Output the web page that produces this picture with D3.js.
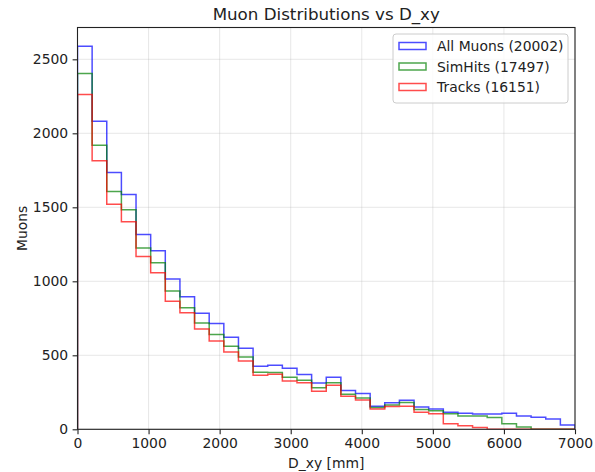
<!DOCTYPE html>
<html>
<head>
<meta charset="utf-8">
<script src="https://cdn.jsdelivr.net/npm/d3@7"></script>
<style>
  body { margin: 0; background: white; }
  svg { display: block; font-family: 'DejaVu Sans', sans-serif; }
</style>
</head>
<body>
<div id="chart"></div>
<script>
// histogram: 34 bins over 0..7000 mm
const binCount = 34
const xMax = 7000

const allMuons = [2589, 2081, 1736, 1587, 1317, 1206, 1015, 895, 785, 715, 622, 548, 426, 433, 413, 370, 313, 352,
  263, 242, 156, 180, 196, 150, 137, 115, 108, 103, 104, 108, 90, 81, 69, 29]
const simHits = [2404, 1919, 1606, 1484, 1225, 1125, 934, 821, 719, 640, 562, 489, 386, 383, 352, 331, 280, 315,
  237, 212, 147, 165, 181, 133, 125, 105, 90, 90, 80, 37, 15, 0, 0, 0]
const tracks = [2262, 1815, 1520, 1403, 1168, 1057, 866, 787, 677, 597, 523, 462, 365, 372, 327, 315, 257, 297,
  223, 198, 138, 154, 155, 115, 105, 38, 24, 13, 0, 0, 0, 0, 0, 0]

const seriesNames = ['All Muons (20002)', 'SimHits (17497)', 'Tracks (16151)']
const seriesColors = ['#0000ff', '#008000', '#ff0000']
const xTicks = [0, 1000, 2000, 3000, 4000, 5000, 6000, 7000]
const yTicks = [0, 500, 1000, 1500, 2000, 2500]

const width = 595
const height = 472
const margin = { top: 27.5, right: 20, bottom: 42.7, left: 77.5 }

const svg = d3.select('#chart')
  .append('svg')
  .attr('width', width)
  .attr('height', height)

const x = d3.scaleLinear().domain([0, xMax]).range([margin.left, width - margin.right])
const y = d3.scaleLinear().domain([0, 2715]).range([height - margin.bottom, margin.top])

// grid
svg.append('g')
  .selectAll('line')
  .data(xTicks)
  .enter()
  .append('line')
  .attr('x1', d => x(d)).attr('x2', d => x(d))
  .attr('y1', y.range()[0]).attr('y2', y.range()[1])
  .attr('stroke', '#b0b0b0').attr('stroke-opacity', 0.3).attr('stroke-width', 1)

svg.append('g')
  .selectAll('line')
  .data(yTicks)
  .enter()
  .append('line')
  .attr('y1', d => y(d)).attr('y2', d => y(d))
  .attr('x1', x.range()[0]).attr('x2', x.range()[1])
  .attr('stroke', '#b0b0b0').attr('stroke-opacity', 0.3).attr('stroke-width', 1)

// step outline like matplotlib histtype='step'
const binW = xMax / binCount
const stepPoints = values => {
  let pts = [[0, 0]]
  values.forEach((v, i) => {
    pts.push([i * binW, v])
    pts.push([(i + 1) * binW, v])
  })
  pts.push([binCount * binW, 0])
  return pts
}

const line = d3.line().x(d => x(d[0])).y(d => y(d[1]))

const plot = svg.append('g')
  .attr('clip-path', 'url(#clip)')

svg.append('clipPath').attr('id', 'clip')
  .append('rect')
  .attr('x', margin.left).attr('y', margin.top)
  .attr('width', x.range()[1] - margin.left)
  .attr('height', y.range()[0] - margin.top)

;[allMuons, simHits, tracks].forEach((vals, i) => {
  plot.append('path')
    .attr('d', line(stepPoints(vals)))
    .attr('fill', 'none')
    .attr('stroke', seriesColors[i])
    .attr('stroke-opacity', 0.7)
    .attr('stroke-width', 1.5)
    .attr('stroke-linejoin', 'miter')
})

// axes
const xAxis = svg.append('g')
  .attr('transform', `translate(0,${y.range()[0]})`)
  .call(d3.axisBottom(x).tickValues(xTicks).tickFormat(d3.format('d')).tickSize(4.9).tickPadding(4.4))
const yAxis = svg.append('g')
  .attr('transform', `translate(${x.range()[0]},0)`)
  .call(d3.axisLeft(y).tickValues(yTicks).tickFormat(d3.format('d')).tickSize(4.9).tickPadding(4.4))

;[xAxis, yAxis].forEach(ax => {
  ax.select('.domain').remove()
  ax.selectAll('text').attr('font-size', 13.9).attr('fill', '#222').attr('font-family', 'DejaVu Sans')
  ax.selectAll('line').attr('stroke', '#222').attr('stroke-width', 1.1)
})

// frame
svg.append('rect')
  .attr('x', x.range()[0]).attr('y', y.range()[1])
  .attr('width', x.range()[1] - x.range()[0])
  .attr('height', y.range()[0] - y.range()[1])
  .attr('fill', 'none').attr('stroke', '#222').attr('stroke-width', 1.1)

// title and labels
svg.append('text')
  .attr('x', (x.range()[0] + x.range()[1]) / 2)
  .attr('y', 20)
  .attr('text-anchor', 'middle')
  .attr('font-size', 16.7)
  .attr('fill', '#222')
  .text('Muon Distributions vs D_xy')

svg.append('text')
  .attr('x', (x.range()[0] + x.range()[1]) / 2)
  .attr('y', 468)
  .attr('text-anchor', 'middle')
  .attr('font-size', 13.9)
  .attr('fill', '#222')
  .text('D_xy [mm]')

svg.append('text')
  .attr('transform', `translate(27,${(y.range()[0] + y.range()[1]) / 2}) rotate(-90)`)
  .attr('text-anchor', 'middle')
  .attr('font-size', 13.9)
  .attr('fill', '#222')
  .text('Muons')

// legend
const legend = svg.append('g').attr('transform', 'translate(393,34)')
legend.append('rect')
  .attr('width', 175).attr('height', 69)
  .attr('rx', 3)
  .attr('fill', 'white').attr('fill-opacity', 0.8)
  .attr('stroke', '#cccccc').attr('stroke-width', 1)

seriesNames.forEach((name, i) => {
  const row = legend.append('g').attr('transform', `translate(0,${12 + i * 20.5})`)
  row.append('rect')
    .attr('x', 6).attr('y', -3.5)
    .attr('width', 27).attr('height', 7)
    .attr('fill', 'none')
    .attr('stroke', seriesColors[i]).attr('stroke-opacity', 0.7).attr('stroke-width', 1.5)
  row.append('text')
    .attr('x', 44).attr('y', 5)
    .attr('font-size', 13.9)
    .attr('fill', '#222')
    .text(name)
})
</script>
</body>
</html>
